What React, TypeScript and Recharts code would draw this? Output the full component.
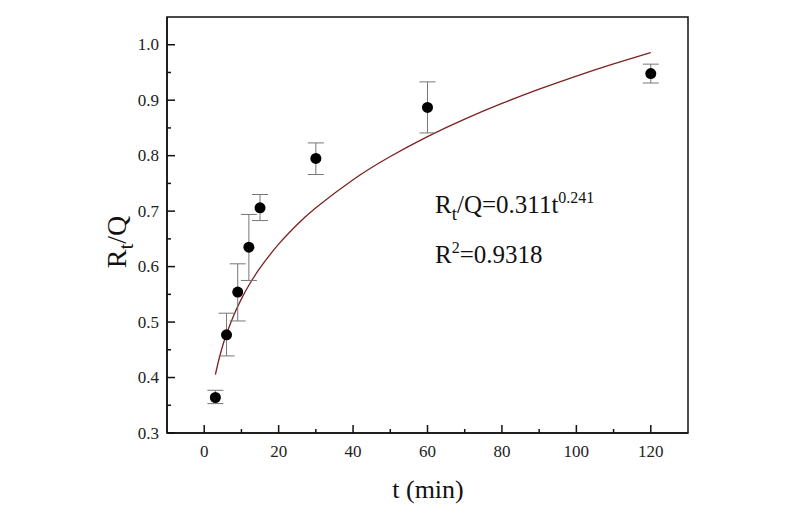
import React from "react";
import {
  ComposedChart,
  Scatter,
  Line,
  XAxis,
  YAxis,
  ErrorBar,
  ReferenceArea,
} from "recharts";

// Measured release ratio points
const times = [3, 6, 9, 12, 15, 30, 60, 120];
const ratios = [0.364, 0.477, 0.554, 0.635, 0.706, 0.795, 0.887, 0.948];
const errLow = [0.011, 0.038, 0.052, 0.06, 0.023, 0.029, 0.046, 0.017];
const errHigh = [0.013, 0.039, 0.051, 0.059, 0.024, 0.028, 0.046, 0.017];

// Fitted curve
const curveT = [3, 4, 5, 6, 8, 10, 12, 15, 20, 25, 30, 40, 50, 60, 70, 80, 90, 100, 110, 120];
const curveV = [0.4053, 0.4339, 0.4583, 0.4786, 0.5131, 0.5418, 0.5663, 0.5975, 0.6404, 0.6759, 0.7059, 0.7566, 0.7984, 0.8343, 0.8658, 0.8941, 0.9199, 0.9436, 0.9655, 0.9859];

const xTicks = [0, 10, 20, 30, 40, 50, 60, 70, 80, 90, 100, 110, 120];
const yTicks = [0.3, 0.35, 0.4, 0.45, 0.5, 0.55, 0.6, 0.65, 0.7, 0.75, 0.8, 0.85, 0.9, 0.95, 1.0];

const points = times.map((t, i) => ({ t, v: ratios[i], e: [errLow[i], errHigh[i]] }));
const curve = curveT.map((t, i) => ({ t, v: curveV[i] }));

const FONT = "Liberation Serif, Times New Roman, serif";
const fontStyle = { fontFamily: FONT };

const XTick = (props: any) => {
  const { x, y, payload } = props;
  const val = payload.value;
  const major = Math.round(val) % 20 === 0;
  return (
    <g>
      <line x1={x} x2={x} y1={y} y2={y - (major ? 8 : 4)} stroke="#111" strokeWidth={1.5} />
      {major && (
        <text x={x} y={y + 24} textAnchor="middle" style={fontStyle} fontSize={17} fill="#222">
          {val}
        </text>
      )}
    </g>
  );
};

const YTick = (props: any) => {
  const { x, y, payload } = props;
  const val = payload.value;
  const major = Math.abs(Math.round(val * 10) - val * 10) < 0.01;
  return (
    <g>
      <line x1={x} x2={x + (major ? 8 : 4)} y1={y} y2={y} stroke="#111" strokeWidth={1.5} />
      {major && (
        <text x={x - 8} y={y + 5.5} textAnchor="end" style={fontStyle} fontSize={17} fill="#222">
          {val.toFixed(1)}
        </text>
      )}
    </g>
  );
};

const Dot = (props: any) => {
  const { cx, cy } = props;
  return <circle cx={cx} cy={cy} r={5.5} fill="#000" />;
};

export default function App() {
  return (
    <div style={{ position: "absolute", left: 0, top: 0, width: 800, height: 530, background: "#fff" }}>
      <ComposedChart
        width={800}
        height={530}
        margin={{ top: 17, right: 112, left: 0, bottom: 0 }}
      >
        <XAxis
          dataKey="t"
          type="number"
          domain={[-10, 130]}
          ticks={xTicks}
          allowDataOverflow
          height={97}
          tickSize={0}
          tickMargin={0}
          tick={<XTick />}
          axisLine={{ stroke: "#111", strokeWidth: 1.5 }}
          tickLine={false}
        />
        <YAxis
          dataKey="v"
          type="number"
          domain={[0.3, 1.05]}
          ticks={yTicks}
          allowDataOverflow
          width={167}
          tickSize={0}
          tickMargin={0}
          tick={<YTick />}
          axisLine={{ stroke: "#111", strokeWidth: 1.5 }}
          tickLine={false}
        />
        <ReferenceArea
          x1={-10}
          x2={130}
          y1={0.3}
          y2={1.05}
          fill="none"
          fillOpacity={0}
          stroke="#111"
          strokeWidth={1.5}
          ifOverflow="visible"
        />
        <Line
          data={curve}
          dataKey="v"
          type="natural"
          stroke="#7a2222"
          strokeWidth={1.3}
          dot={false}
          isAnimationActive={false}
        />
        <Scatter data={points} dataKey="v" shape={<Dot />} isAnimationActive={false}>
          <ErrorBar dataKey="e" direction="y" width={8} stroke="#777" strokeWidth={1} />
        </Scatter>
      </ComposedChart>
      <svg
        width={800}
        height={530}
        style={{ position: "absolute", left: 0, top: 0, pointerEvents: "none", fontFamily: FONT }}
      >
        <text x={435} y={213} fontSize={25} fill="#111" style={fontStyle}>
          R<tspan fontSize={19} dy={7}>t</tspan>
          <tspan dy={-7}>/Q=0.311t</tspan>
          <tspan fontSize={16} dy={-10}>0.241</tspan>
        </text>
        <text x={435} y={263} fontSize={25} fill="#111" style={fontStyle}>
          R<tspan fontSize={16} dy={-10}>2</tspan>
          <tspan dy={10}>=0.9318</tspan>
        </text>
        <text
          transform="translate(126,242) rotate(-90)"
          textAnchor="middle"
          fontSize={28}
          fill="#111"
          style={fontStyle}
        >
          R<tspan fontSize={21} dy={7}>t</tspan>
          <tspan dy={-7}>/Q</tspan>
        </text>
        <text x={428} y={498} textAnchor="middle" fontSize={26} fill="#111" style={fontStyle}>
          t (min)
        </text>
      </svg>
    </div>
  );
}
